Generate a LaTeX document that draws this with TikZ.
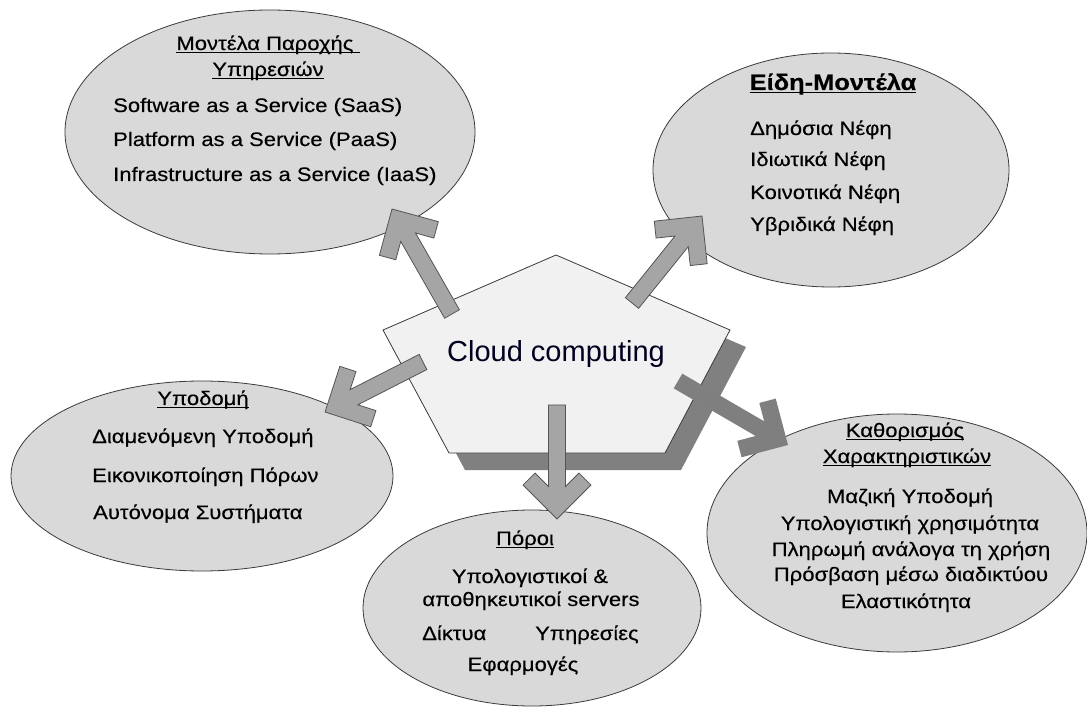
\documentclass[tikz,border=0pt]{standalone}
\usepackage{fontspec}
\setmainfont{Liberation Sans}
\newfontfamily\ellfont{Liberation Sans}[FakeStretch=1.13,FakeBold=0.3]
\usetikzlibrary{shapes.geometric,calc}
\definecolor{ellfill}{HTML}{D9D9D9}
\definecolor{ellline}{HTML}{3A3A3A}
\definecolor{pentfill}{HTML}{F1F1F1}
\definecolor{shadowc}{HTML}{808080}
\definecolor{arrfill}{HTML}{A5A5A5}
\definecolor{arrline}{HTML}{555555}
\definecolor{arrdk}{HTML}{7F7F7F}
\newcommand\myul[1]{\leavevmode\setbox0\hbox{#1}\rlap{\rule[-3pt]{\wd0}{1.3pt}}\box0}
\tikzset{
  ell/.style={ellipse, draw=ellline, fill=ellfill, line width=0.8pt, inner sep=0pt},
  txt/.style={font=\ellfont\fontsize{19.5}{24}\selectfont, inner sep=0pt, anchor=base},
  txtl/.style={txt, anchor=base west},
  ttl/.style={txt},
  arrowbox/.style={fill=arrfill, draw=arrline, line width=0.8pt, line join=miter},
  arrowdark/.style={fill=arrdk, draw=none},
}
\newcommand\blockarrow[3]{%
  \path let \p1=($(#3)-(#2)$), \n1={atan2(\y1,\x1)}, \n2={veclen(\x1,\y1)} in
    \pgfextra{\pgfmathsetmacro\tmpA{\n1}\xdef\baA{\tmpA}\pgfmathsetmacro\tmpL{\n2}\xdef\baL{\tmpL}};
  \draw[#1, shift={(#2)}, rotate=\baA] (0,8.5) -- ({\baL-32.5},8.5) -- ({\baL-45.96},21.92)
    -- ({\baL-33.94},33.94) -- (\baL,0) -- ({\baL-33.94},-33.94) -- ({\baL-45.96},-21.92)
    -- ({\baL-32.5},-8.5) -- (0,-8.5) -- cycle;
}
\begin{document}
\begin{tikzpicture}[x=1pt,y=-1pt]
\useasboundingbox (0,0) rectangle (1087,708);
% ellipses
\node[ell, minimum width=410pt, minimum height=244pt] (e1) at (270,132) {};
\node[ell, minimum width=356pt, minimum height=234pt] (e2) at (831,170) {};
\node[ell, minimum width=382pt, minimum height=190pt] (e3) at (202,476) {};
\node[ell, minimum width=338pt, minimum height=196pt] (e4) at (532,608) {};
\node[ell, minimum width=380pt, minimum height=238pt] (e5) at (897,533) {};
% pentagon
\coordinate (p1) at (556,255);
\coordinate (p2) at (730,330);
\coordinate (p3) at (665,453);
\coordinate (p4) at (449,453);
\coordinate (p5) at (383,330);
\fill[shadowc] ([shift={(16,17)}]p1) -- ([shift={(16,17)}]p2) -- ([shift={(16,17)}]p3)
  -- ([shift={(16,17)}]p4) -- ([shift={(16,17)}]p5) -- cycle;
\draw[fill=pentfill, draw=ellline, line width=0.8pt] (p1) -- (p2) -- (p3) -- (p4) -- (p5) -- cycle;
\node[font=\fontsize{29}{34}\selectfont, inner sep=0pt, anchor=base, text=black!88!blue] (cc) at (556,362) {Cloud computing};
% arrows
\coordinate (a1s) at (452,314); \coordinate (a1t) at (392,209);
\coordinate (a2s) at (632,303); \coordinate (a2t) at (702,216);
\coordinate (a3s) at (423,362); \coordinate (a3t) at (325,412);
\coordinate (a4s) at (557,405); \coordinate (a4t) at (557,519);
\coordinate (a5s) at (678,381); \coordinate (a5t) at (788,445);
\blockarrow{arrowbox}{a1s}{a1t}
\blockarrow{arrowbox}{a2s}{a2t}
\blockarrow{arrowbox}{a3s}{a3t}
\blockarrow{arrowbox}{a4s}{a4t}
\blockarrow{arrowdark}{a5s}{a5t}
% texts ellipse 1
\node[ttl] (t1a) at (268,50) {\myul{Μοντέλα Παροχής\ }};
\node[ttl] (t1b) at (268,76) {\myul{Υπηρεσιών}};
\node[txtl] (t1c) at (113,112) {Software as a Service (SaaS)};
\node[txtl] (t1d) at (113,146) {Platform as a Service (PaaS)};
\node[txtl] (t1e) at (113,181) {Infrastructure as a Service (IaaS)};
% ellipse 2
\node[txt, font=\ellfont\fontsize{22.5}{27}\selectfont\bfseries] (t2a) at (833,90) {\myul{Είδη-Μοντέλα}};
\node[txtl] (t2b) at (750,135) {Δημόσια Νέφη};
\node[txtl] (t2c) at (750,166) {Ιδιωτικά Νέφη};
\node[txtl] (t2d) at (750,199) {Κοινοτικά Νέφη};
\node[txtl] (t2e) at (750,231) {Υβριδικά Νέφη};
% ellipse 3
\node[ttl] (t3a) at (203,405) {\myul{Υποδομή}};
\node[txtl] (t3b) at (92,443) {Διαμενόμενη Υποδομή};
\node[txtl] (t3c) at (92,482) {Εικονικοποίηση Πόρων};
\node[txtl] (t3d) at (93,519) {Αυτόνομα Συστήματα};
% ellipse 4
\node[ttl] (t4a) at (525,545) {\myul{Πόροι}};
\node[txt] (t4b) at (530,583) {Υπολογιστικοί \&};
\node[txt] (t4c) at (531,606) {αποθηκευτικοί servers};
\node[txtl] (t4d) at (422,640) {Δίκτυα};
\node[txtl] (t4e) at (535,640) {Υπηρεσίες};
\node[txt] (t4f) at (523,671) {Εφαρμογές};
% ellipse 5
\node[ttl] (t5a) at (905,437) {\myul{Καθορισμός}};
\node[ttl] (t5b) at (907,463) {\myul{Χαρακτηριστικών}};
\node[txt] (t5c) at (910,503) {Μαζική Υποδομή};
\node[txt] (t5d) at (910,530) {Υπολογιστική χρησιμότητα};
\node[txt] (t5e) at (911,556) {Πληρωμή ανάλογα τη χρήση};
\node[txt] (t5f) at (911,581) {Πρόσβαση μέσω διαδικτύου};
\node[txt] (t5g) at (906,608) {Ελαστικότητα};
\end{tikzpicture}
\end{document}
